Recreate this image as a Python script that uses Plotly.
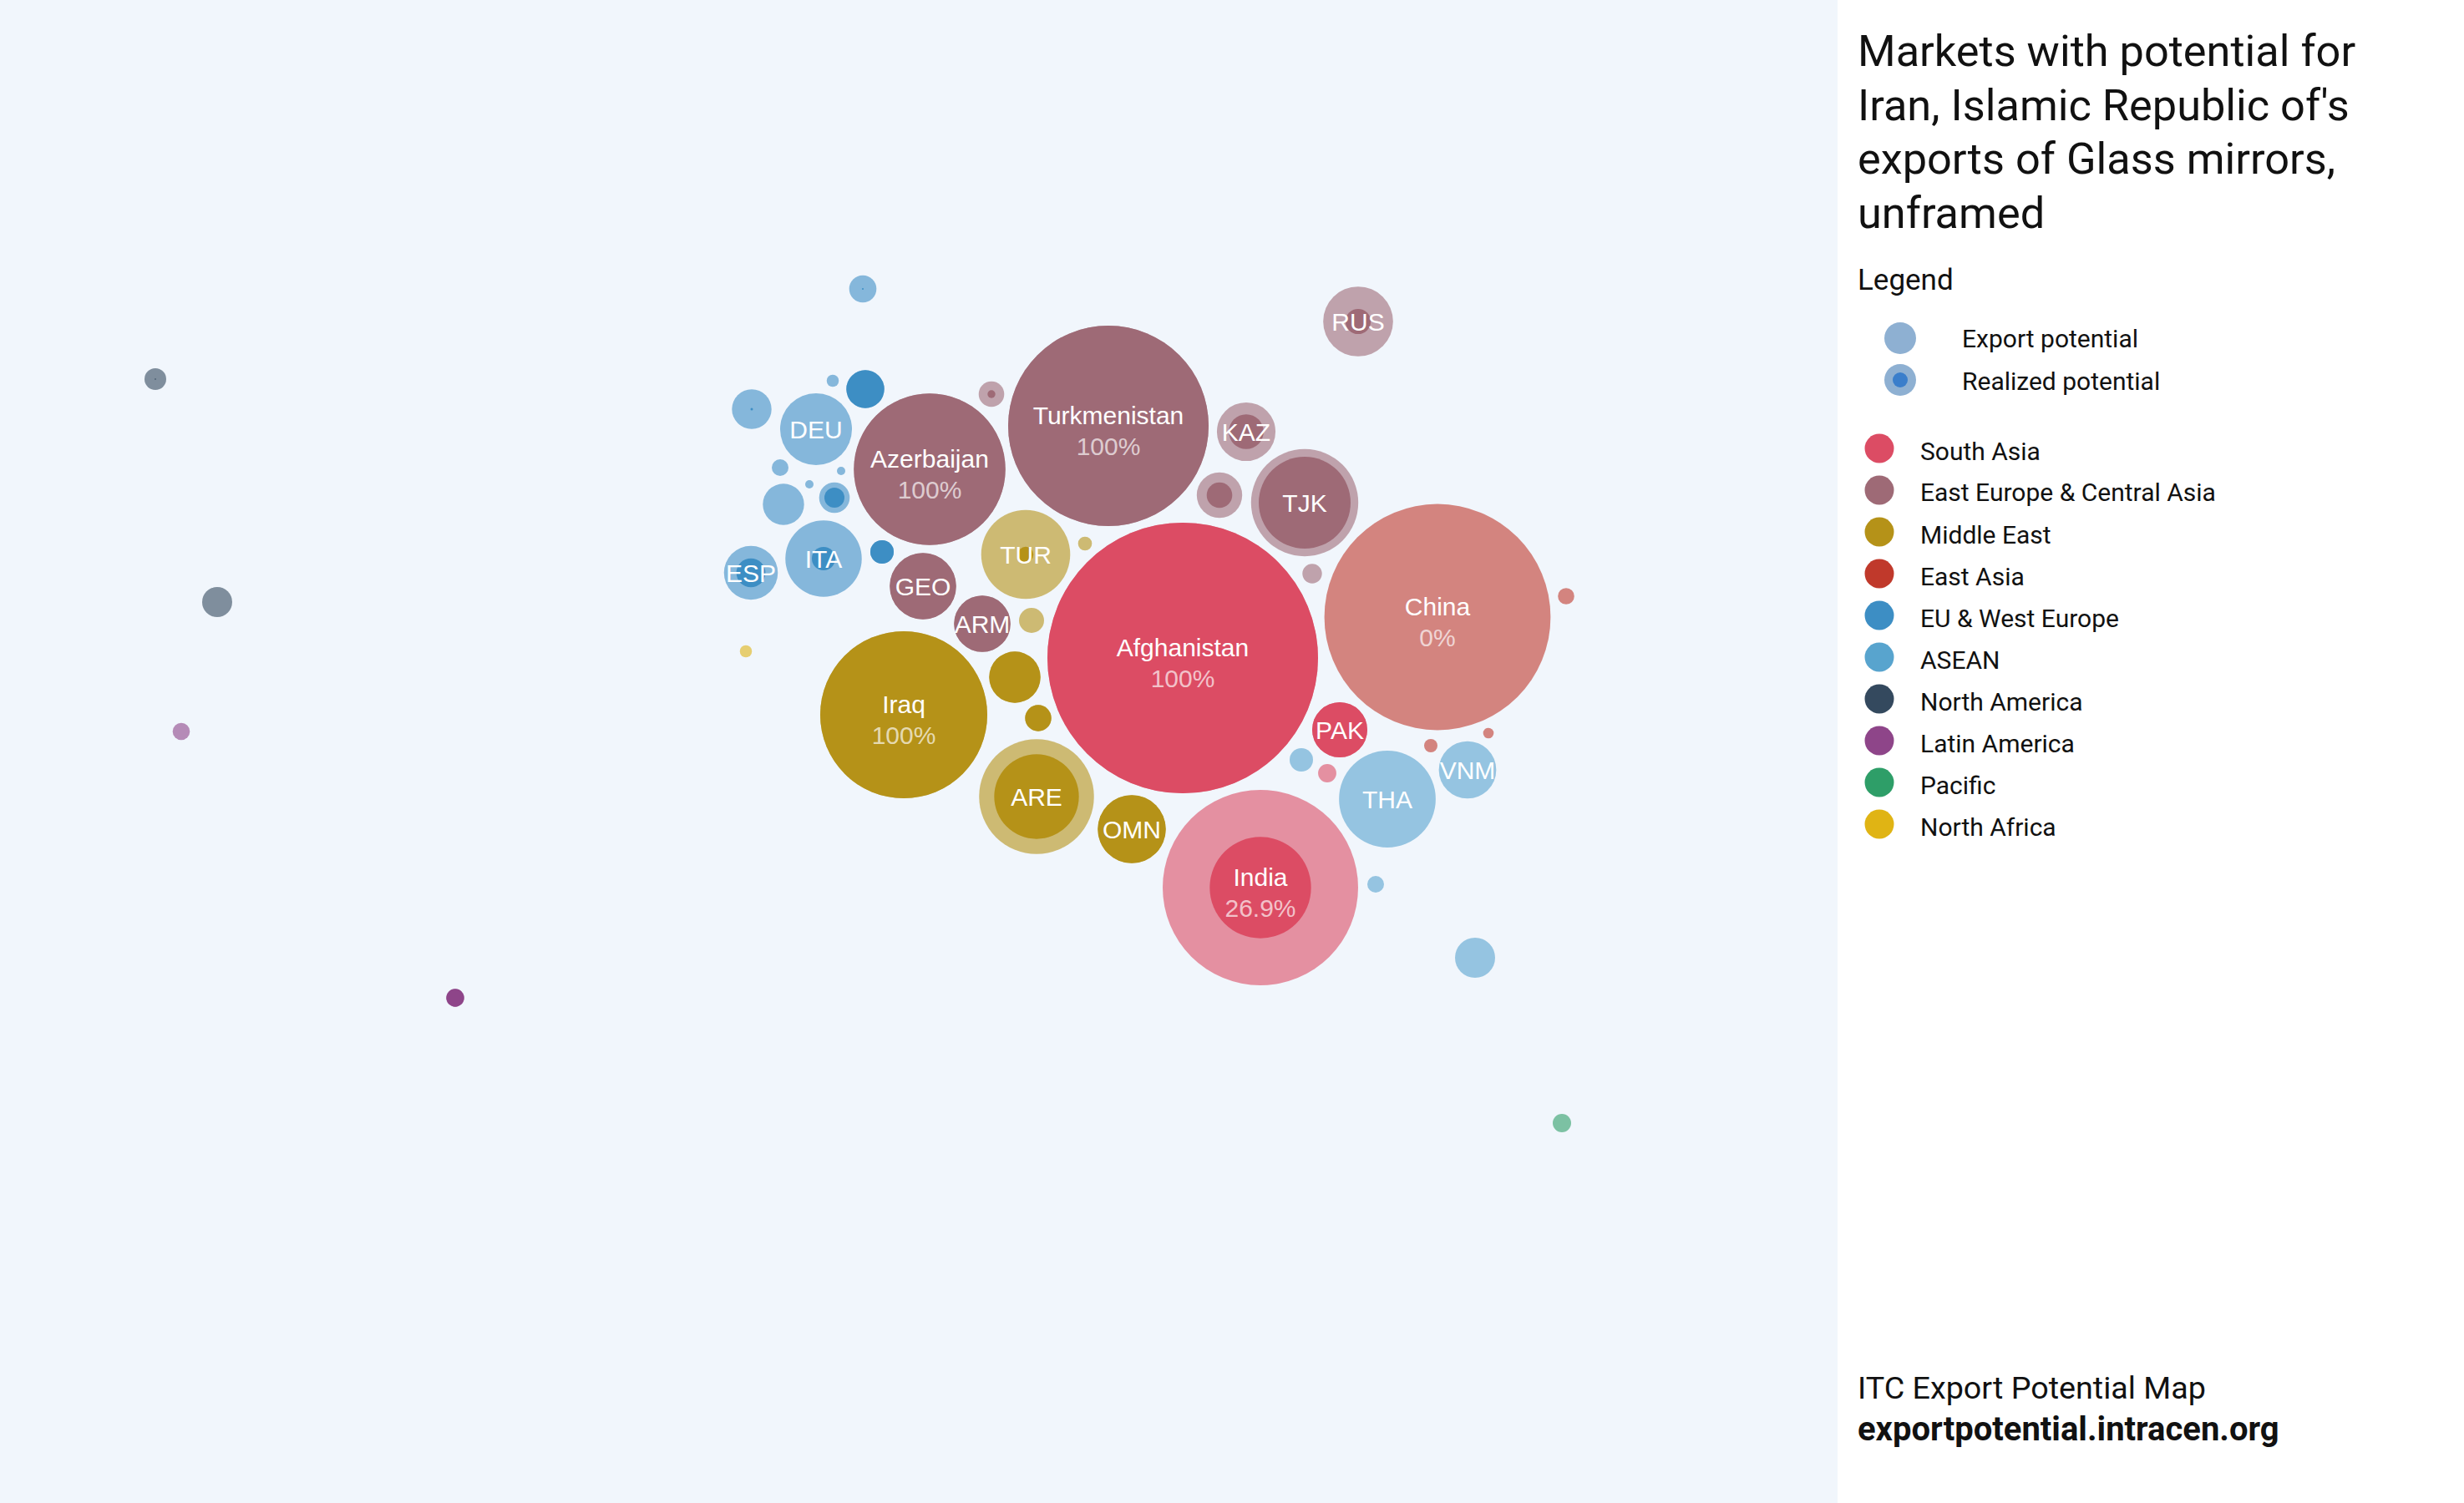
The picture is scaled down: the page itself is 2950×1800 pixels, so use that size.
import plotly.graph_objects as go

# ------------------------------------------------------------------ data
# Each market: label, region, bubble-layout position, export potential
# (relative units) and share of that potential already realized.
labels = ["Afghanistan", "Turkmenistan", "Azerbaijan", "China", "Iraq", "India",
          "TJK", "THA", "ARE", "TUR", "OMN", "GEO", "ARM", "DEU", "ITA", "ESP",
          "RUS", "KAZ", "PAK", "VNM",
          "", "", "", "", "", "", "", "", "", "",
          "", "", "",
          "", "", "", "",
          "",
          "",
          "", "", "",
          "", "", "",
          "", "",
          "", "",
          ""]
regions = ["South Asia", "East Europe & Central Asia", "East Europe & Central Asia", "East Asia",
           "Middle East", "South Asia", "East Europe & Central Asia", "ASEAN", "Middle East",
           "Middle East", "Middle East", "East Europe & Central Asia", "East Europe & Central Asia",
           "EU & West Europe", "EU & West Europe", "EU & West Europe", "East Europe & Central Asia",
           "East Europe & Central Asia", "South Asia", "ASEAN",
           "EU & West Europe", "EU & West Europe", "EU & West Europe", "EU & West Europe",
           "EU & West Europe", "EU & West Europe", "EU & West Europe", "EU & West Europe",
           "EU & West Europe", "EU & West Europe",
           "East Europe & Central Asia", "East Europe & Central Asia", "East Europe & Central Asia",
           "Middle East", "Middle East", "Middle East", "Middle East",
           "North Africa",
           "South Asia",
           "East Asia", "East Asia", "East Asia",
           "ASEAN", "ASEAN", "ASEAN",
           "North America", "North America",
           "Latin America", "Latin America",
           "Pacific"]
layout_x = [1416, 1327, 1113, 1721, 1082, 1509, 1562, 1661, 1241, 1228, 1355, 1105, 1176,
            977, 986, 899, 1626, 1492, 1604, 1757,
            1033, 900, 997, 1036, 934, 1007, 969, 938, 999, 1056,
            1187, 1460, 1571,
            1299, 1235, 1215, 1243,
            893,
            1589,
            1875, 1713, 1782,
            1558, 1647, 1766,
            186, 260,
            217, 545,
            1870]
layout_y = [788, 510, 562, 739, 856, 1063, 602, 957, 954, 664, 993, 702, 747,
            514, 669, 686, 385, 517, 874, 922,
            346, 490, 456, 466, 560, 564, 580, 604, 596, 661,
            472, 593, 687,
            651, 743, 811, 860,
            780,
            926,
            714, 893, 878,
            910, 1059, 1147,
            454, 721,
            876, 1195,
            1345]
potential = [2624, 1440, 823, 1833, 1000, 1369, 412, 335, 473, 284, 166, 158, 114,
             185, 209, 104, 175, 123, 109, 118,
             26.6, 56.2, 5.3, 51.5, 10.0, 2.5, 2.5, 61.0, 33.5, 19.6,
             23.4, 74.0, 13.7,
             6.9, 22.5, 94.2, 24.6,
             5.3,
             11.9,
             9.6, 6.4, 4.0,
             19.6, 10.0, 57.6,
             16.9, 32.4,
             10.6, 11.4,
             12.1]
realized = [1.0, 1.0, 1.0, 0.0, 1.0, 0.269, 0.734, 0.0, 0.543, 0.03, 1.0, 1.0, 1.0,
            0.0, 0.094, 0.29, 0.13, 0.353, 1.0, 0.0,
            0.004, 0.004, 0.0, 1.0, 0.0, 0.0, 0.0, 0.0, 0.43, 1.0,
            0.094, 0.316, 0.0,
            0.0, 0.0, 1.0, 1.0,
            0.0,
            0.0,
            0.0, 0.0, 0.0,
            0.0, 0.0, 0.0,
            0.004, 0.0,
            0.0, 1.0,
            0.0]

region_names = ["South Asia", "East Europe & Central Asia", "Middle East", "East Asia",
                "EU & West Europe", "ASEAN", "North America", "Latin America", "Pacific",
                "North Africa"]
region_colors = ["#dc4c64", "#9e6a76", "#b59218", "#c0392b", "#3d8ec4", "#58a4ce",
                 "#34495e", "#8e4589", "#2e9e68", "#e0b414"]

title_lines = ["Markets with potential for", "Iran, Islamic Republic of's",
               "exports of Glass mirrors,", "unframed"]
legend_title = "Legend"
size_legend = ["Export potential", "Realized potential"]
footer_lines = ["ITC Export Potential Map", "<b>exportpotential.intracen.org</b>"]

# ------------------------------------------------------------------ figure
W, H = 2950, 1800
PLOT_W = 2200
BG = "#f1f6fc"
color_of = dict(zip(region_names, region_colors))
SIZEREF = 0.05

fig = go.Figure()

# outer bubbles: export potential
fig.add_trace(go.Scatter(
    x=layout_x, y=layout_y, mode="markers",
    marker=dict(size=potential, sizemode="area", sizeref=SIZEREF,
                color=[color_of[r] for r in regions], opacity=0.6,
                line=dict(width=0)),
    hoverinfo="skip", showlegend=False))

# inner bubbles: realized potential
ix = [i for i in range(len(realized)) if realized[i] > 0]
fig.add_trace(go.Scatter(
    x=[layout_x[i] for i in ix], y=[layout_y[i] for i in ix], mode="markers",
    marker=dict(size=[potential[i] * realized[i] for i in ix], sizemode="area",
                sizeref=SIZEREF, color=[color_of[regions[i]] for i in ix],
                opacity=1, line=dict(width=0)),
    hoverinfo="skip", showlegend=False))


def pct(s):
    v = round(s * 100, 1)
    return (f"{v:.0f}" if v == int(v) else f"{v:.1f}") + "%"


LABEL_FONT = "Liberation Sans, Arial, sans-serif"
short = [i for i in range(len(labels)) if labels[i] and len(labels[i]) <= 3]
full = [i for i in range(len(labels)) if labels[i] and len(labels[i]) > 3]

fig.add_trace(go.Scatter(
    x=[layout_x[i] for i in short], y=[layout_y[i] + 3 for i in short], mode="text",
    text=[labels[i] for i in short], textposition="middle center",
    textfont=dict(family=LABEL_FONT, size=30, color="white"),
    hoverinfo="skip", showlegend=False))
fig.add_trace(go.Scatter(
    x=[layout_x[i] for i in full], y=[layout_y[i] - 10 for i in full], mode="text",
    text=[labels[i] for i in full], textposition="middle center",
    textfont=dict(family=LABEL_FONT, size=30, color="white"),
    hoverinfo="skip", showlegend=False))
fig.add_trace(go.Scatter(
    x=[layout_x[i] for i in full], y=[layout_y[i] + 27 for i in full], mode="text",
    text=[pct(realized[i]) for i in full], textposition="middle center",
    textfont=dict(family=LABEL_FONT, size=30, color="rgba(255,255,255,0.68)"),
    hoverinfo="skip", showlegend=False))

# ------------------------------------------------------------------ side panel
TXT = "#111111"
TFONT = "Roboto, sans-serif"
annotations = []
shapes = []


def px(x):
    return x / W


def py(y):
    return 1 - y / H


def note(text, x, y, size):
    annotations.append(dict(text=text, x=px(x), y=py(y), xref="paper", yref="paper",
                            xanchor="left", yanchor="middle", showarrow=False,
                            font=dict(family=TFONT, size=size, color=TXT)))


def circle(cx, cy, r, color):
    shapes.append(dict(type="circle", xref="paper", yref="paper",
                       x0=px(cx - r), x1=px(cx + r), y0=py(cy + r), y1=py(cy - r),
                       fillcolor=color, line=dict(width=0)))


for k, line in enumerate(title_lines):
    note(line, 2222, 61 + k * 64.7, 52.3)
note(legend_title, 2222, 336, 35)

circle(2275, 405, 19, "#8eb0d2")
note(size_legend[0], 2347, 406, 30)
circle(2275, 455, 19, "#8eb0d2")
circle(2275, 455, 9, "#3a7ecb")
note(size_legend[1], 2347, 456, 30)

for k, (name, col) in enumerate(zip(region_names, region_colors)):
    cy = 537 + k * 50
    circle(2250, cy, 17.5, col)
    note(name, 2297, cy + 3, 30)

note(footer_lines[0], 2222, 1662, 37.7)
note(footer_lines[1], 2222, 1711, 40)

fig.update_layout(
    width=W, height=H,
    margin=dict(l=0, r=0, t=0, b=0, pad=0),
    paper_bgcolor="white", plot_bgcolor=BG,
    xaxis=dict(range=[0, PLOT_W], domain=[0, PLOT_W / W], visible=False, fixedrange=True),
    yaxis=dict(range=[H, 0], domain=[0, 1], visible=False, fixedrange=True),
    annotations=annotations, shapes=shapes,
    showlegend=False,
)

fig.write_html("out.html", config={"displayModeBar": False},
               post_script="document.body.style.margin='0';document.body.style.overflow='hidden';")
